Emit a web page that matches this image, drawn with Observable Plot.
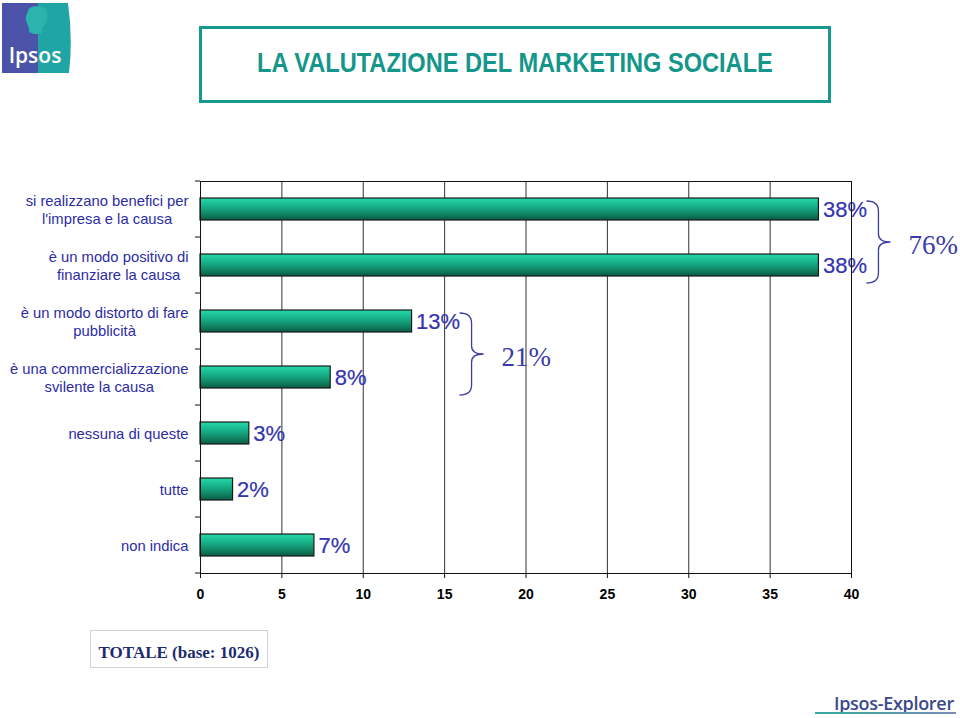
<!DOCTYPE html>
<html>
<head>
<meta charset="utf-8">
<script src="https://cdn.jsdelivr.net/npm/d3@7"></script>
<script src="https://cdn.jsdelivr.net/npm/@observablehq/plot@0.6"></script>
<style>
  html, body { margin: 0; padding: 0; background: #fff; }
  #page { position: relative; width: 960px; height: 718px; overflow: hidden; background: #fff; font-family: "Liberation Sans", Arial, sans-serif; }
  #chart { position: absolute; left: 0; top: 0; }
  .title-box { position: absolute; left: 199px; top: 26px; width: 626px; height: 71px; border: 3px solid #17998d; display: flex; align-items: center; justify-content: center; }
  .title-box span { display: inline-block; white-space: nowrap; color: #14968a; font-weight: bold; font-size: 28px; font-family: "Liberation Sans", Arial, sans-serif; transform: scaleX(0.843); margin-top: -3px; }
  .logo { position: absolute; left: 2px; top: 3px; width: 70px; height: 70px; }
  .totale { position: absolute; left: 90px; top: 630px; width: 176px; height: 36px; border: 1px solid #d4d4d4; display: flex; align-items: center; justify-content: center; }
  .totale span { font-family: "Liberation Serif", "Times New Roman", serif; font-weight: bold; font-size: 17px; color: #1c2c6e; padding-top: 8px; }
  .explorer { position: absolute; left: 834px; top: 691px; font-family: "Open Sans", "Liberation Sans", sans-serif; font-weight: 600; font-size: 18px; color: #3a4a8a; letter-spacing: -0.3px; }
  .explorer-line { position: absolute; left: 815px; top: 712px; width: 141px; height: 2px; background: linear-gradient(90deg, #3aa8a0 0%, #3aa8a0 15%, #7c8bb8 100%); }
</style>
</head>
<body>
<div id="page">
  <svg class="logo" viewBox="0 0 70 70">
    <path d="M0,0 H66 Q71,35 67,70 H0 Z" fill="#1fa5a3"/>
    <rect x="0" y="0" width="36" height="70" fill="#4b53a8"/>
    <path d="M26,8 C26,2 44,1 45,10 C47,14 44,22 40,24 L40,30 C36,32 30,31 27,29 C28,25 25,22 24,17 C23,14 25,11 26,8 Z" fill="#2bb3ae"/>
    <text x="33" y="60" text-anchor="middle" fill="#fff" font-family="'Open Sans', 'Liberation Sans', sans-serif" font-weight="600" font-size="21">Ipsos</text>
  </svg>
  <div class="title-box"><span>LA VALUTAZIONE DEL MARKETING SOCIALE</span></div>
  <div id="chart"></div>
  <div class="totale"><span>TOTALE (base: 1026)</span></div>
  <div class="explorer">Ipsos-Explorer</div>
  <div class="explorer-line"></div>
</div>
<script>
// ---- data ----
const categories = [
  "si realizzano benefici per\nl'impresa e la causa",
  "è un modo positivo di\nfinanziare la causa",
  "è un modo distorto di fare\npubblicità",
  "è una commercializzazione\nsvilente la causa",
  "nessuna di queste",
  "tutte",
  "non indica"
];
const values = [38, 38, 13, 8, 3, 2, 7];
const xTicks = [0, 5, 10, 15, 20, 25, 30, 35, 40];
const groupFirst = [0, 2];
const groupLast = [1, 3];
const groupLabels = ["76%", "21%"];

const data = categories.map((cat, i) => ({cat, value: values[i]}));
const groups = groupFirst.map((f, i) => ({first: f, last: groupLast[i], label: groupLabels[i]}));

const blue = "#3434b0";
const svgNS = "http://www.w3.org/2000/svg";

function catGeometry(scales) {
  const Y = scales.y;
  const step = Y(categories[1]) - Y(categories[0]);
  const bw = typeof Y.bandwidth === "function" ? Y.bandwidth() : step * 0.4;
  return {Y, step, bw};
}

// boundary ticks on the category axis
function boundaryTicks(index, scales, values, dimensions) {
  const {Y, step, bw} = catGeometry(scales);
  const x0 = scales.x(0);
  const g = document.createElementNS(svgNS, "g");
  const start = Y(categories[0]) - (step - bw) / 2;
  for (let i = 0; i <= categories.length; i++) {
    const y = start + i * step;
    const l = document.createElementNS(svgNS, "line");
    l.setAttribute("x1", x0 - 5); l.setAttribute("x2", x0);
    l.setAttribute("y1", y); l.setAttribute("y2", y);
    l.setAttribute("stroke", "#111");
    g.appendChild(l);
  }
  return g;
}

// braces grouping categories
function braces(index, scales, values, dimensions) {
  const {Y, bw} = catGeometry(scales);
  const X = scales.x;
  const g = document.createElementNS(svgNS, "g");
  for (const grp of groups) {
    const vmax = d3.max(data.slice(grp.first, grp.last + 1), d => d.value);
    const x0 = X(vmax) + 48;
    const top = Y(categories[grp.first]) + 3;
    const bottom = Y(categories[grp.last]) + bw + 7;
    const mid = (top + bottom) / 2;
    const p = document.createElementNS(svgNS, "path");
    p.setAttribute("d",
      `M${x0},${top} C${x0+8},${top} ${x0+12},${top+3} ${x0+12},${top+10} ` +
      `L${x0+12},${mid-8} C${x0+12},${mid-3} ${x0+16},${mid} ${x0+24},${mid} ` +
      `C${x0+16},${mid} ${x0+12},${mid+3} ${x0+12},${mid+8} ` +
      `L${x0+12},${bottom-10} C${x0+12},${bottom-3} ${x0+8},${bottom} ${x0},${bottom}`);
    p.setAttribute("fill", "none");
    p.setAttribute("stroke", "#3c3ca6");
    p.setAttribute("stroke-width", "1.3");
    g.appendChild(p);
    const t = document.createElementNS(svgNS, "text");
    t.setAttribute("x", x0 + 42);
    t.setAttribute("y", mid + 12);
    t.setAttribute("text-anchor", "start");
    t.setAttribute("fill", "#3a3aa8");
    t.setAttribute("font-family", "'Liberation Serif', 'Times New Roman', serif");
    t.setAttribute("font-size", "27");
    t.textContent = grp.label;
    g.appendChild(t);
  }
  return g;
}

const plot = Plot.plot({
  width: 960,
  height: 718,
  marginLeft: 200,
  marginRight: 109,
  marginTop: 181,
  marginBottom: 145,
  style: {background: "transparent", overflow: "visible"},
  x: {domain: [0, 40], ticks: xTicks, label: null},
  y: {domain: categories, paddingInner: 0.6, paddingOuter: 0.3, label: null},
  marks: [
    Plot.gridX(xTicks, {stroke: "#333", strokeOpacity: 1, strokeWidth: 1}),
    Plot.barX(data, {x: "value", y: "cat", fill: "url(#barGrad)", stroke: "#1a1a1a", strokeWidth: 1.2}),
    Plot.text(data, {x: "value", y: "cat", text: d => d.value + "%", dx: 4, textAnchor: "start",
      fill: blue, stroke: blue, strokeWidth: 0.2, fontSize: 22, fontFamily: "'Liberation Sans', Arial, sans-serif"}),
    Plot.frame({stroke: "#111"}),
    Plot.axisX({ticks: xTicks, label: null, tickSize: 5, tickPadding: 11, fontSize: 14, fontWeight: "bold",
      fontFamily: "'Liberation Sans Narrow', 'Liberation Sans', Arial, sans-serif", fill: "#000", stroke: "#111"}),
    Plot.axisY({label: null, tickSize: 0, tickPadding: 12, fontSize: 14.8, lineHeight: 1.22, fill: "#2c2ca6",
      fontFamily: "'Liberation Sans', Arial, sans-serif"}),
    boundaryTicks,
    braces
  ]
});

// gradient definition for the bars
const defs = document.createElementNS(svgNS, "defs");
const grad = document.createElementNS(svgNS, "linearGradient");
grad.setAttribute("id", "barGrad");
grad.setAttribute("x1", "0"); grad.setAttribute("y1", "0");
grad.setAttribute("x2", "0"); grad.setAttribute("y2", "1");
[["0%", "#2ad6a8"], ["20%", "#1cc597"], ["45%", "#15a882"], ["70%", "#108865"], ["100%", "#0a5a45"]].forEach(([o, c]) => {
  const s = document.createElementNS(svgNS, "stop");
  s.setAttribute("offset", o); s.setAttribute("stop-color", c);
  grad.appendChild(s);
});
defs.appendChild(grad);
plot.insertBefore(defs, plot.firstChild);

document.getElementById("chart").appendChild(plot);

// center the lines of multi-line category labels within their block
plot.querySelectorAll("text").forEach(t => {
  const spans = Array.from(t.querySelectorAll("tspan"));
  if (spans.length < 2) return;
  const W = d3.max(spans, s => s.getComputedTextLength());
  t.setAttribute("text-anchor", "middle");
  spans.forEach(s => {
    s.setAttribute("text-anchor", "middle");
    const x0 = +(s.getAttribute("x") || 0);
    s.setAttribute("x", x0 - W / 2);
  });
});
</script>
</body>
</html>
